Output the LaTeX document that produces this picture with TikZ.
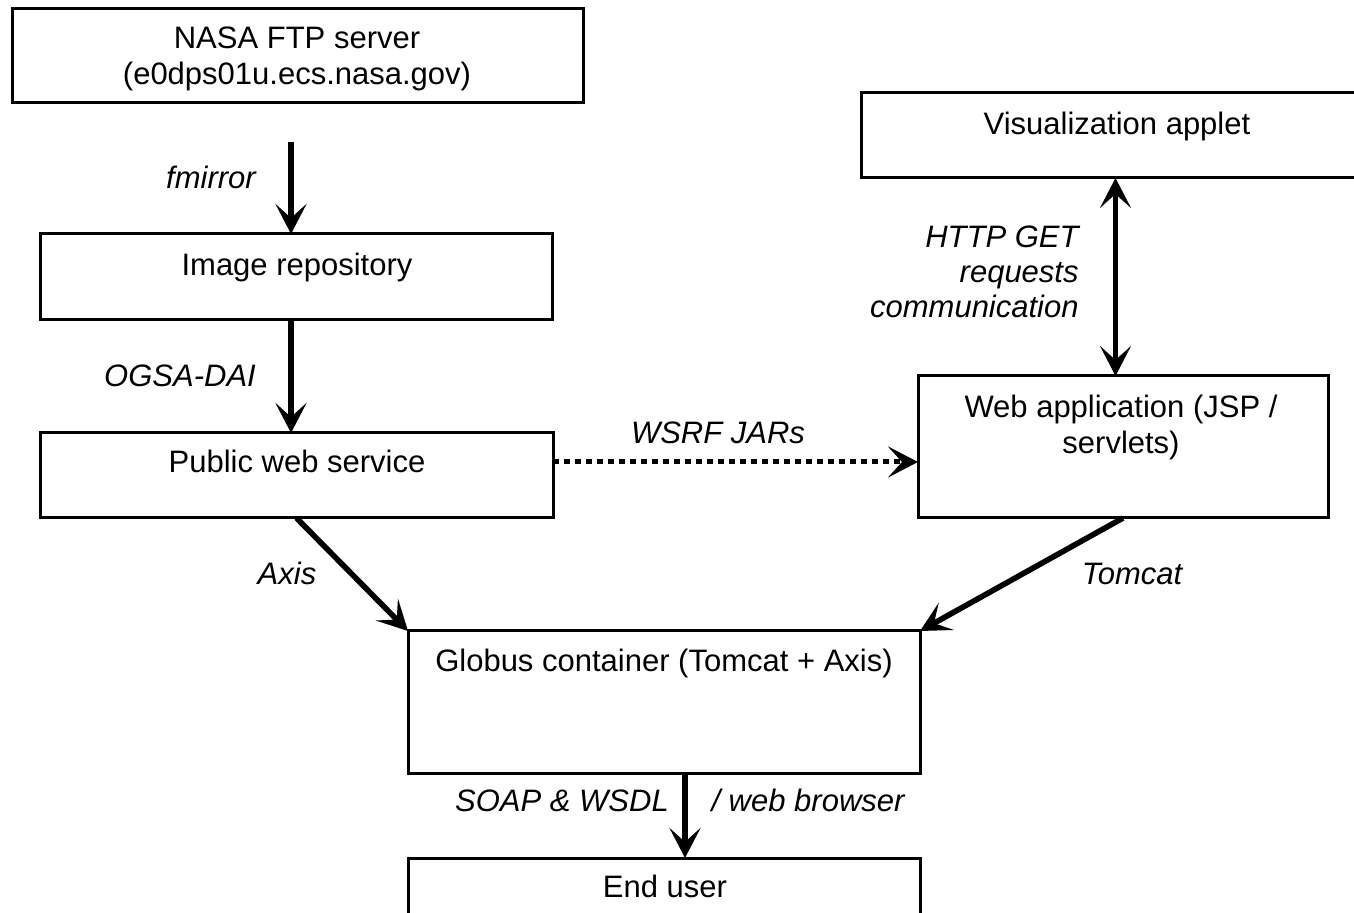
\documentclass[tikz,border=0pt]{standalone}
\usepackage{fontspec}
\setmainfont{Liberation Sans}
\usetikzlibrary{arrows.meta,calc}
\begin{document}
\begin{tikzpicture}[x=0.5pt,y=-0.5pt,
  box/.style={draw,line width=1.5pt,inner sep=0pt,outer sep=0pt},
  txt/.style={font=\fontsize{15.5}{18}\selectfont,inner sep=0pt,align=center,text height=11pt,text depth=0pt},
  lab/.style={font=\fontsize{15.5}{17.5}\selectfont\itshape,inner sep=0pt,text height=11pt,text depth=0pt},
  tipx/.tip={Stealth[length=15pt,width=15.5pt,inset=7pt]},
  arr/.style={line width=2.8pt,-tipx},
  dblarr/.style={line width=2.8pt,tipx-tipx},
  dotarr/.style={line width=2.5pt,dash pattern=on 3pt off 2.5pt,-tipx}]
\useasboundingbox[fill=white] (0,0) rectangle (1354,913);
% boxes
\node[box,minimum width=571pt*0.5,minimum height=94pt*0.5] (nasa) at (297.5,56) {};
\node[box,minimum width=509pt*0.5,minimum height=85pt*0.5] (vis) at (1115.5,135.5) {};
\node[box,minimum width=512pt*0.5,minimum height=86pt*0.5] (repo) at (296,277) {};
\node[box,minimum width=513pt*0.5,minimum height=85pt*0.5] (pub) at (296.5,475.5) {};
\node[box,minimum width=410pt*0.5,minimum height=142pt*0.5] (web) at (1123,447) {};
\node[box,minimum width=512pt*0.5,minimum height=142pt*0.5] (glob) at (664,702) {};
\node[box,minimum width=512pt*0.5,minimum height=72pt*0.5] (user) at (664,894) {};
% box texts
\node[txt,text height=,text depth=] (tnasa) at (297,59) {NASA FTP server\\(e0dps01u.ecs.nasa.gov)};
\node[txt] (tvis) at (1117,124) {Visualization applet};
\node[txt] (trepo) at (297,265) {Image repository};
\node[txt] (tpub) at (297,462) {Public web service};
\node[txt,text height=,text depth=] (tweb) at (1121,427) {Web application (JSP /\\servlets)};
\node[txt] (tglob) at (664,661) {Globus container (Tomcat + Axis)};
\node[txt] (tuser) at (665,886) {End user};
% connectors
\coordinate (fm) at (291,142);
\draw[arr] (fm) -- (fm |- repo.north);
\draw[arr] (repo.south -| fm) -- (pub.north -| fm);
\path (pub.east) ++(0,-13.5) coordinate (d0);
\draw[dotarr] (d0) -- (d0 -| web.west);
\draw[dblarr] (vis.south) -- (vis.south |- web.north);
\draw[arr] (pub.south) -- (glob.north west);
\draw[arr] (web.south) -- (glob.north east);
\draw[arr] ([xshift=10.5pt]glob.south) -- ([xshift=10.5pt]user.north);
% labels
\node[lab] (lfm) at (211,178) {fmirror};
\node[lab] (logsa) at (180,376) {OGSA-DAI};
\node[lab] (lwsrf) at (718,433) {WSRF JARs};
\node[lab,align=right,anchor=east,text height=,text depth=] (lhttp) at (1079,272) {HTTP GET\\requests\\communication};
\node[lab] (laxis) at (287,574) {Axis};
\node[lab] (ltom) at (1132,574) {Tomcat};
\node[lab] (lsoap) at (562,800) {SOAP \& WSDL};
\node[lab] (lweb) at (808,800) {/ web browser};
\end{tikzpicture}
\end{document}
